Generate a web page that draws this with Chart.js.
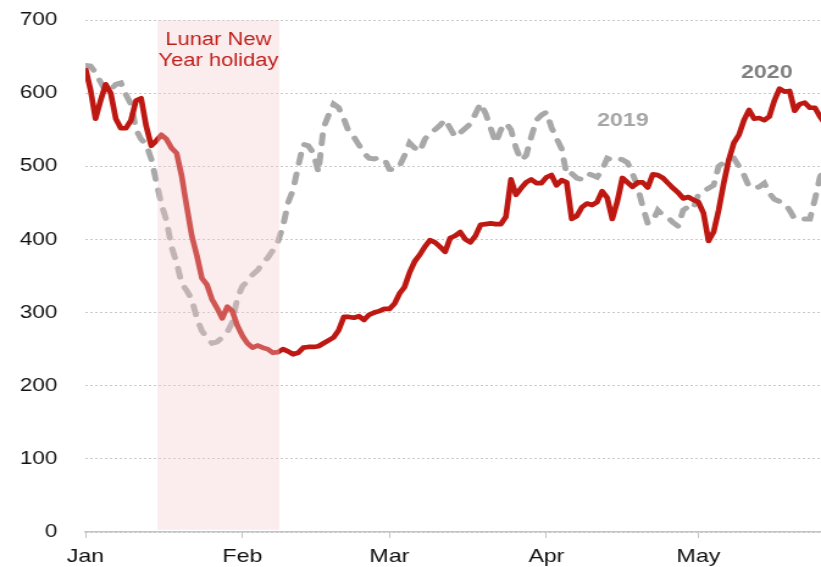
<!DOCTYPE html>
<html>
<head>
<meta charset="utf-8">
<script src="https://cdn.jsdelivr.net/npm/chart.js@4/dist/chart.umd.min.js"></script>
<style>
  html, body { margin: 0; padding: 0; background: #fff; overflow: hidden; }
  #wrap { width: 673px; height: 567px; transform: scale(1.2199, 1); transform-origin: 0 0; }
  #c { display: block; }
</style>
</head>
<body>
<div id="wrap"><canvas id="c" width="673" height="567"></canvas></div>
<script>
// Day index 0 = Jan 1 (daily values)
const monthStarts = [0, 31, 60, 91, 121];
const monthLabels = ['Jan', 'Feb', 'Mar', 'Apr', 'May'];
const yTicks = [0, 100, 200, 300, 400, 500, 600, 700];

const series2020 = [
  634,605,565,590,612,600,565,552,552,563,
  590,593,555,528,535,543,537,525,518,487,
  445,405,378,347,338,318,306,292,308,302,
  282,268,258,252,255,252,250,245,246,250,
  247,243,245,252,253,253,254,258,262,266,
  276,294,294,293,295,290,297,300,302,305,
  305,312,326,335,355,370,379,390,399,396,
  390,383,402,405,410,400,396,405,420,421,
  422,421,421,431,482,461,470,478,482,477,
  477,485,488,474,481,478,428,432,444,449,
  447,451,466,457,428,452,484,478,472,478,
  478,471,489,488,484,477,470,464,456,458,
  454,451,436,398,410,440,477,509,532,543,
  563,577,565,566,563,568,590,606,602,603,
  576,585,587,580,580,568,558
];

const series2019 = [
  638,637,628,615,603,605,612,614,598,585,
  550,537,530,510,479,448,426,390,368,340,
  330,318,292,275,265,258,260,266,273,287,
  320,336,343,352,358,368,375,385,397,418,
  450,468,500,530,528,518,492,553,570,585,
  580,565,547,540,529,518,511,510,512,510,
  496,495,500,515,532,525,520,537,546,550,
  556,564,552,540,546,552,558,572,586,572,
  552,532,550,559,550,525,508,515,540,563,
  570,574,553,538,524,488,490,484,482,490,
  488,485,495,511,508,511,509,505,490,472,
  445,422,425,440,433,430,423,418,440,445,
  442,462,466,470,474,500,505,509,511,500,
  488,472,470,472,477,463,455,452,450,440,
  428,428,428,428,455,485,500
];

const holidayStart = 14.2, holidayEnd = 38.3; // days
const holidayTop = 700, holidayBottom = 3;

const FONT = "'Liberation Sans', Arial, Helvetica, sans-serif";

const overlayPlugin = {
  id: 'overlay',
  afterDatasetsDraw(chart) {
    const { ctx, scales: { x, y } } = chart;
    ctx.save();
    const x0 = x.getPixelForValue(holidayStart), x1 = x.getPixelForValue(holidayEnd);
    const y0 = y.getPixelForValue(holidayTop), y1 = y.getPixelForValue(holidayBottom);
    ctx.fillStyle = 'rgba(244,203,206,0.35)';
    ctx.fillRect(x0, y0, x1 - x0, y1 - y0);

    ctx.textAlign = 'center';
    ctx.textBaseline = 'alphabetic';
    ctx.fillStyle = 'rgb(192,30,25)';
    ctx.font = '18px ' + FONT;
    const cx = x.getPixelForValue((holidayStart + holidayEnd) / 2);
    ctx.fillText('Lunar New', cx, y.getPixelForValue(666));
    ctx.fillText('Year holiday', cx, y.getPixelForValue(637));

    ctx.font = 'bold 19px ' + FONT;
    ctx.fillStyle = '#a6a6a6';
    ctx.fillText('2019', x.getPixelForValue(106.1), y.getPixelForValue(555));
    ctx.fillStyle = '#7f7f7f';
    ctx.fillText('2020', x.getPixelForValue(134.5), y.getPixelForValue(621));
    ctx.restore();
  }
};

new Chart(document.getElementById('c'), {
  type: 'line',
  data: {
    datasets: [
      {
        label: '2020',
        data: series2020.map((v, i) => ({ x: i, y: v })),
        borderColor: 'rgb(190,24,18)',
        borderWidth: 4.7,
        pointRadius: 0,
        tension: 0,
        borderJoinStyle: 'round',
        order: 0
      },
      {
        label: '2019',
        data: series2019.map((v, i) => ({ x: i, y: v })),
        borderColor: '#a8a8a8',
        borderWidth: 5,
        borderDash: [9, 11],
        borderCapStyle: 'round',
        pointRadius: 0,
        tension: 0,
        order: 1
      }
    ]
  },
  options: {
    responsive: false,
    devicePixelRatio: 1,
    animation: false,
    layout: { padding: { top: 20, right: 0, bottom: 0, left: 0 } },
    plugins: { legend: { display: false }, tooltip: { enabled: false } },
    scales: {
      x: {
        type: 'linear',
        min: 0,
        max: 145.2,
        afterBuildTicks(scale) { scale.ticks = monthStarts.map(v => ({ value: v })); },
        afterFit(scale) { scale.height = 35; scale.paddingLeft = 0; scale.paddingRight = 0; },
        ticks: {
          autoSkip: false,
          maxRotation: 0,
          padding: 7,
          color: '#111',
          font: { family: FONT, size: 19 },
          callback(value) { const k = monthStarts.indexOf(value); return k >= 0 ? monthLabels[k] : ''; }
        },
        grid: { drawOnChartArea: false, drawTicks: true, tickLength: 6, tickColor: '#c4c4c4', tickWidth: 1 },
        border: { display: true, color: '#c4c4c4', width: 1.5 }
      },
      y: {
        min: 0,
        max: 700,
        afterBuildTicks(scale) { scale.ticks = yTicks.map(v => ({ value: v })); },
        afterFit(scale) { scale.width = 70; scale.paddingTop = 0; scale.paddingBottom = 0; },
        ticks: {
          padding: 23,
          color: '#111',
          font: { family: FONT, size: 18.5 }
        },
        grid: { drawTicks: false, color: '#c8c8c8', lineWidth: 1 },
        border: { display: false, dash: [2, 2] }
      }
    }
  },
  plugins: [overlayPlugin]
});
</script>
</body>
</html>
